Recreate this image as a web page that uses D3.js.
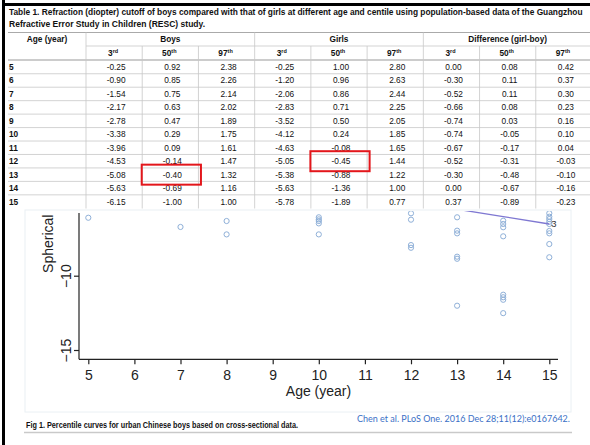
<!DOCTYPE html>
<html>
<head>
<meta charset="utf-8">
<script src="https://cdn.jsdelivr.net/npm/d3@7"></script>
<style>
  html, body { margin: 0; padding: 0; background: #fff; }
  svg { display: block; font-family: "Liberation Sans", Arial, Helvetica, sans-serif; }
  .cell { font-size: 8.3px; fill: #111; text-anchor: middle; }
  .head { font-size: 8.3px; font-weight: bold; fill: #111; }
  .grid { stroke: #c8c8c8; stroke-width: 0.8; }
  .axis path, .axis line { stroke: #222; stroke-width: 1.2; }
  .axis text { font-size: 14px; fill: #222; font-family: "Liberation Sans", Arial, sans-serif; }
</style>
</head>
<body>
<div id="chart"></div>
<script>
// --- table data (Table 1) ---
const ages = [5, 6, 7, 8, 9, 10, 11, 12, 13, 14, 15];
const centiles = ["3", "50", "97"];
const centileSuffix = ["rd", "th", "th"];
const groups = ["Boys", "Girls", "Difference (girl-boy)"];

const boys3  = ["-0.25", "-0.90", "-1.54", "-2.17", "-2.78", "-3.38", "-3.96", "-4.53", "-5.08", "-5.63", "-6.15"];
const boys50 = ["0.92", "0.85", "0.75", "0.63", "0.47", "0.29", "0.09", "-0.14", "-0.40", "-0.69", "-1.00"];
const boys97 = ["2.38", "2.26", "2.14", "2.02", "1.89", "1.75", "1.61", "1.47", "1.32", "1.16", "1.00"];
const girls3  = ["-0.25", "-1.20", "-2.06", "-2.83", "-3.52", "-4.12", "-4.63", "-5.05", "-5.38", "-5.63", "-5.78"];
const girls50 = ["1.00", "0.96", "0.86", "0.71", "0.50", "0.24", "-0.08", "-0.45", "-0.88", "-1.36", "-1.89"];
const girls97 = ["2.80", "2.63", "2.44", "2.25", "2.05", "1.85", "1.65", "1.44", "1.22", "1.00", "0.77"];
const diff3  = ["0.00", "-0.30", "-0.52", "-0.66", "-0.74", "-0.74", "-0.67", "-0.52", "-0.30", "0.00", "0.37"];
const diff50 = ["0.08", "0.11", "0.11", "0.08", "0.03", "-0.05", "-0.17", "-0.31", "-0.48", "-0.67", "-0.89"];
const diff97 = ["0.42", "0.37", "0.30", "0.23", "0.16", "0.10", "0.04", "-0.03", "-0.10", "-0.16", "-0.23"];

// highlighted cells: [column index, age]
const highlights = [[1, 13], [4, 12]];

const titleLines = [
  "Table 1.  Refraction (diopter) cutoff of boys compared with that of girls at different age and centile using population-based data of the Guangzhou",
  "Refractive Error Study in Children (RESC) study."
];

// --- scatter (Fig 1, cropped) ---
const pointAge = [5, 7, 8, 8, 10, 10, 10, 10, 10, 12, 12, 12, 12,
  13, 13, 13, 13, 13, 13, 14, 14, 14, 14, 14, 14, 14, 14,
  15, 15, 15, 15, 15, 15, 15, 15, 15];
const pointSph = [-6.10, -6.72, -6.32, -7.22, -6.07, -6.21, -6.32, -6.48, -7.22, -5.80, -6.23, -7.94, -8.12,
  -6.07, -6.97, -7.15, -8.72, -8.86, -12.02, -6.30, -6.52, -6.74, -7.35, -11.28, -11.45, -11.62, -12.52,
  -5.80, -6.03, -6.19, -6.37, -6.52, -6.99, -7.15, -7.87, -8.76];
const curveAge = [13, 14, 15];
const curveSph = [-5.53, -6.02, -6.52];
const curveLabel = "3";
const xTicks = [5, 6, 7, 8, 9, 10, 11, 12, 13, 14, 15];
const yTicks = [-15, -10, -5];

const caption = "Fig 1. Percentile curves for urban Chinese boys based on cross-sectional data.";
const citation = "Chen et al. PLoS One. 2016 Dec 28;11(12):e0167642.";

const W = 590, H = 445;
const svg = d3.select("#chart").append("svg").attr("width", W).attr("height", H);
svg.append("rect").attr("width", W).attr("height", H).attr("fill", "#fff");

// squeeze a text horizontally so it spans `width` px (condensed look of the source)
function fitWidth(sel, x0, y0, width) {
  sel.each(function () {
    const natural = this.getComputedTextLength();
    const sx = Math.min(1, width / natural);
    d3.select(this).attr("transform", `translate(${x0},${y0}) scale(${sx},1)`);
  });
}

// ---------- table ----------
const columns = [boys3, boys50, boys97, girls3, girls50, girls97, diff3, diff50, diff97];
const colX = d3.scaleLinear().domain([0, columns.length]).range([86, 592]);
const rowY = d3.scaleBand().domain(ages).range([60.3, 208.3]);
const tableLeft = 8;

titleLines.forEach((t, i) => {
  svg.append("text")
    .attr("font-size", 9.6).attr("font-weight", "bold").attr("fill", "#111")
    .text(t)
    .call(fitWidth, 9, 15 + i * 12, i === 0 ? 574 : 196);
});

const tbl = svg.append("g");
// horizontal lines
tbl.append("line").attr("x1", tableLeft).attr("x2", W).attr("y1", 32.5).attr("y2", 32.5).attr("stroke", "#aaa").attr("stroke-width", 1);
tbl.append("line").attr("x1", colX(0)).attr("x2", W).attr("y1", 46).attr("y2", 46).attr("class", "grid");
tbl.append("line").attr("x1", tableLeft).attr("x2", W).attr("y1", 60).attr("y2", 60).attr("stroke", "#999").attr("stroke-width", 1);
tbl.selectAll(".rowline").data(ages.slice(1)).join("line")
  .attr("class", "grid")
  .attr("x1", tableLeft).attr("x2", W)
  .attr("y1", d => rowY(d)).attr("y2", d => rowY(d));
// vertical lines
tbl.selectAll(".vline").data(d3.range(columns.length)).join("line")
  .attr("class", "grid")
  .attr("x1", d => colX(d)).attr("x2", d => colX(d))
  .attr("y1", d => d % 3 === 0 ? 32.5 : 46).attr("y2", 208.5);

// headers
tbl.append("text").attr("class", "head").attr("text-anchor", "middle")
  .attr("x", (tableLeft + colX(0)) / 2).attr("y", 42).text("Age (year)");
tbl.selectAll(".grp").data(groups).join("text")
  .attr("class", "head").attr("text-anchor", "middle")
  .attr("x", (d, i) => (colX(i * 3) + colX(i * 3 + 3)) / 2)
  .attr("y", 42).text(d => d);
const subs = tbl.selectAll(".sub").data(d3.range(columns.length)).join("text")
  .attr("class", "head").attr("text-anchor", "middle")
  .attr("x", d => (colX(d) + colX(d + 1)) / 2 - 1).attr("y", 56);
subs.append("tspan").text(d => centiles[d % 3]);
subs.append("tspan").attr("font-size", 5.5).attr("dy", -3).text(d => centileSuffix[d % 3]);

// body
tbl.selectAll(".age").data(ages).join("text")
  .attr("class", "head")
  .attr("x", 9).attr("y", d => rowY(d) + rowY.bandwidth() / 2 + 3)
  .text(d => d);
columns.forEach((col, ci) => {
  tbl.append("g").selectAll("text").data(col).join("text")
    .attr("class", "cell")
    .attr("x", (colX(ci) + colX(ci + 1)) / 2 + 2)
    .attr("y", (d, i) => rowY(ages[i]) + rowY.bandwidth() / 2 + 3)
    .text(d => d);
});

// ---------- plot (cropped image) ----------
svg.append("rect").attr("x", 25).attr("y", 210).attr("width", 546).attr("height", 202)
  .attr("fill", "#fff").attr("stroke", "#eaf0f4").attr("stroke-width", 1);

const x = d3.scaleLinear().domain([5, 15]).range([88.3, 549.3]);
const y = d3.scaleLinear().domain([-15, -10]).range([350, 275.7]);
const axisX0 = 79, axisY0 = 359.3, plotTop = 211;

svg.append("clipPath").attr("id", "clip").append("rect")
  .attr("x", 25).attr("y", plotTop).attr("width", 546).attr("height", 200);
const plot = svg.append("g").attr("clip-path", "url(#clip)");

const xAxis = plot.append("g").attr("class", "axis")
  .attr("transform", `translate(0,${axisY0})`)
  .call(d3.axisBottom(x).tickValues(xTicks).tickSize(5).tickPadding(6).tickSizeOuter(0));
xAxis.select(".domain").attr("d", `M${axisX0},0H558`);

const yAxis = plot.append("g").attr("class", "axis")
  .attr("transform", `translate(${axisX0},0)`)
  .call(d3.axisLeft(y).tickValues(yTicks).tickSize(5).tickSizeOuter(0).tickFormat(d3.format("d")));
yAxis.select(".domain").attr("d", `M0,${axisY0}V${plotTop + 2}`);
yAxis.selectAll(".tick text")
  .attr("x", 0).attr("dy", 0).attr("text-anchor", "middle")
  .attr("transform", "translate(-8,0) rotate(-90)");

plot.append("text").attr("x", (axisX0 + 558) / 2).attr("y", 396)
  .attr("text-anchor", "middle").attr("font-size", 14).attr("fill", "#222")
  .text("Age (year)");
plot.append("text").attr("transform", `translate(53,${y(-10) - 32}) rotate(-90)`)
  .attr("text-anchor", "middle").attr("font-size", 14).attr("fill", "#222")
  .text("Spherical");

plot.append("g").selectAll("circle").data(pointAge).join("circle")
  .attr("cx", d => x(d))
  .attr("cy", (d, i) => y(pointSph[i]))
  .attr("r", 2.6)
  .attr("fill", "none").attr("stroke", "#8fb0d8").attr("stroke-width", 1);

const line = d3.line().x(d => x(d[0])).y(d => y(d[1]));
plot.append("path").datum(d3.zip(curveAge, curveSph))
  .attr("d", line).attr("fill", "none").attr("stroke", "#7f78d2").attr("stroke-width", 1.3);
plot.append("text")
  .attr("x", x(curveAge[curveAge.length - 1]) + 2)
  .attr("y", y(curveSph[curveSph.length - 1]) + 3.5)
  .attr("font-size", 9.5).attr("fill", "#333").text(curveLabel);

// ---------- red highlight boxes ----------
svg.append("g").selectAll("rect").data(highlights).join("rect")
  .attr("x", d => colX(d[0]) - 0.5)
  .attr("y", d => rowY(d[1]) + rowY.bandwidth() / 2 - 10)
  .attr("width", d => colX(d[0] + 1) - colX(d[0]) + 3)
  .attr("height", 20)
  .attr("fill", "none").attr("stroke", "#e3161b").attr("stroke-width", 2);

// ---------- caption & frame ----------
svg.append("text")
  .attr("font-size", 8.2).attr("font-weight", "bold").attr("fill", "#111")
  .text(caption)
  .call(fitWidth, 26, 428, 272);
svg.append("text")
  .attr("font-family", "Lato, 'Open Sans', sans-serif")
  .attr("font-size", 9.5).attr("fill", "#3a6fc6")
  .text(citation)
  .call(fitWidth, 357, 422, 213);
svg.append("line").attr("x1", 24).attr("x2", 572).attr("y1", 432.5).attr("y2", 432.5)
  .attr("stroke", "#c9c9c9").attr("stroke-width", 1.5);

svg.append("rect").attr("x", 2).attr("y", 0).attr("width", 3).attr("height", H).attr("fill", "#000");
svg.append("rect").attr("x", 2).attr("y", 3).attr("width", W).attr("height", 3).attr("fill", "#000");
</script>
</body>
</html>
